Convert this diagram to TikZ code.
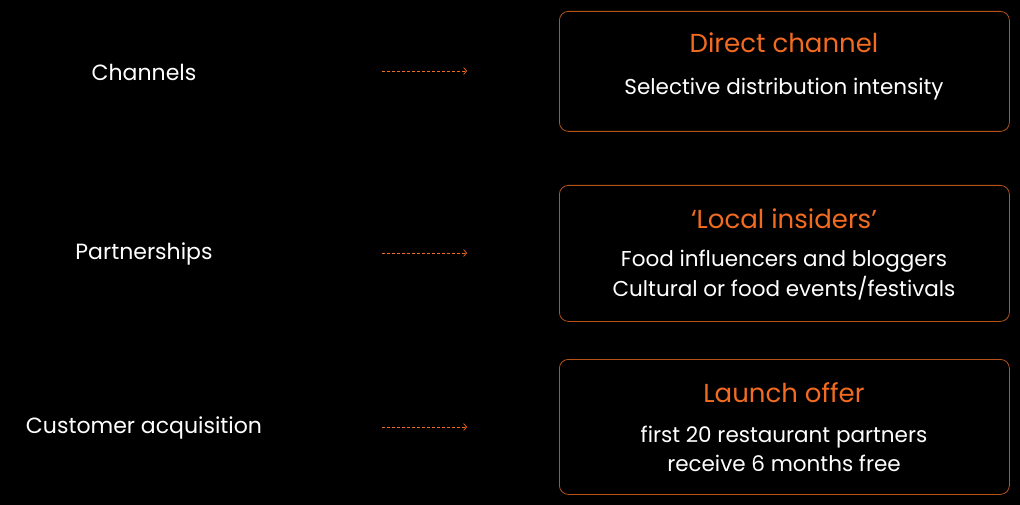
\documentclass[tikz,border=0pt]{standalone}
\usepackage{fontspec}
\setmainfont{Poppins}
\usetikzlibrary{arrows.meta}
\definecolor{org}{HTML}{F26B21}
\definecolor{brd}{HTML}{B5531B}
\begin{document}
\begin{tikzpicture}[x=1pt,y=-1pt,
  box/.style={draw=brd,line width=0.8pt,rounded corners=9pt,minimum width=450pt,anchor=north west,inner sep=0pt},
  lbl/.style={text=white,font=\fontsize{22}{26}\selectfont},
  ttl/.style={text=org,font=\fontsize{26}{30}\selectfont},
  bdy/.style={text=white,font=\fontsize{21.5}{29.5}\selectfont,align=center},
  arr/.style={draw=org,dashed,dash pattern=on 3pt off 2pt,line width=0.7pt,-{Straight Barb[length=3pt,width=7pt]}}]
\fill[black] (0,0) rectangle (1020,505);
\useasboundingbox (0,0) rectangle (1020,505);
\node[box,minimum height=120pt] (b1) at (559,11) {};
\node[box,minimum height=136pt] (b2) at (559,185) {};
\node[box,minimum height=135pt] (b3) at (559,359) {};
\node[ttl] (t1) at (784,43) {Direct channel};
\node[bdy] (d1) at (784,89) {Selective distribution intensity};
\node[ttl] (t2) at (784,219) {‘Local insiders’};
\node[bdy] (d2) at (784,275) {Food influencers and bloggers\\Cultural or food events/festivals};
\node[ttl] (t3) at (784,393) {Launch offer};
\node[bdy] (d3) at (784,449) {first 20 restaurant partners\\receive 6 months free};
\node[lbl] (l1) at (144,72) {Channels};
\node[lbl] (l2) at (144,254) {Partnerships};
\node[lbl] (l3) at (144,428) {Customer acquisition};
\coordinate (a1s) at (382,71); \coordinate (a1e) at (467,71);
\coordinate (a2s) at (382,253); \coordinate (a2e) at (467,253);
\coordinate (a3s) at (382,427); \coordinate (a3e) at (467,427);
\draw[arr] (a1s) -- (a1e);
\draw[arr] (a2s) -- (a2e);
\draw[arr] (a3s) -- (a3e);
\end{tikzpicture}
\end{document}
